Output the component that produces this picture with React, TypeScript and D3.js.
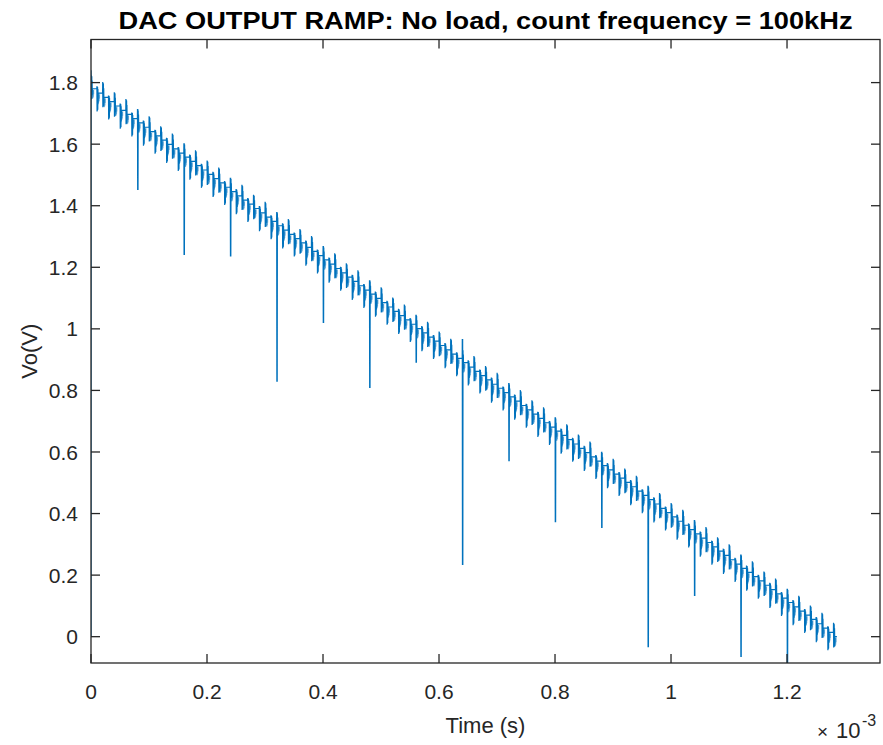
import React from 'react';
import * as d3 from 'd3';

const W = 883;
const H = 745;

// Axis ticks (time in ms, displayed with ×10^-3 multiplier)
const xTicks = [0, 0.2, 0.4, 0.6, 0.8, 1.0, 1.2];
const xTickLabels = ['0', '0.2', '0.4', '0.6', '0.8', '1', '1.2'];
const yTicks = [0, 0.2, 0.4, 0.6, 0.8, 1.0, 1.2, 1.4, 1.6, 1.8];
const yTickLabels = ['0', '0.2', '0.4', '0.6', '0.8', '1', '1.2', '1.4', '1.6', '1.8'];

// count frequency 100 kHz -> one DAC step every 10 µs (value in ms)
const stepPeriodMs = 0.01;

// staircase levels (V), one per count
const stepLevels = [
  1.780, 1.766, 1.752, 1.738, 1.724, 1.710, 1.697, 1.683, 1.669, 1.655,
  1.641, 1.627, 1.613, 1.599, 1.585, 1.571, 1.558, 1.544, 1.530, 1.516,
  1.502, 1.488, 1.474, 1.460, 1.446, 1.432, 1.418, 1.405, 1.391, 1.377,
  1.363, 1.349, 1.335, 1.321, 1.307, 1.293, 1.279, 1.265, 1.252, 1.238,
  1.224, 1.210, 1.196, 1.182, 1.168, 1.154, 1.140, 1.126, 1.113, 1.099,
  1.085, 1.071, 1.057, 1.043, 1.029, 1.015, 1.001, 0.987, 0.973, 0.960,
  0.946, 0.932, 0.918, 0.904, 0.890, 0.876, 0.862, 0.848, 0.834, 0.820,
  0.807, 0.793, 0.779, 0.765, 0.751, 0.737, 0.723, 0.709, 0.695, 0.681,
  0.668, 0.654, 0.640, 0.626, 0.612, 0.598, 0.584, 0.570, 0.556, 0.542,
  0.528, 0.515, 0.501, 0.487, 0.473, 0.459, 0.445, 0.431, 0.417, 0.403,
  0.389, 0.375, 0.362, 0.348, 0.334, 0.320, 0.306, 0.292, 0.278, 0.264,
  0.250, 0.236, 0.222, 0.209, 0.195, 0.181, 0.167, 0.153, 0.139, 0.125,
  0.111, 0.097, 0.083, 0.070, 0.056, 0.042, 0.028, 0.014, 0.000,
];

// glitch overshoot/undershoot (V) at each transition, repeating every 8 counts
const glitchHigh = [0.045, 0.022, 0.050, 0.020, 0.045, 0.022, 0.050, 0.020];
const glitchLow = [0.035, 0.060, 0.032, 0.058, 0.035, 0.060, 0.032, 0.058];

// fast glitch burst: time after transition (µs) and fraction of the glitch (+high / -low)
const burstTimesUs = [0.15, 0.45, 0.75, 1.05, 1.35, 1.65, 1.95, 2.25, 2.5];
const burstFractions = [1.0, -1.0, 0.95, -0.95, 0.9, -0.9, 0.6, -0.6, 0.0];

// slower ringing after the burst (lighter trace): time (µs) and depth below level (V)
const ringTimesUs = [2.6, 2.9, 3.2, 3.5, 3.8, 4.1, 4.4, 4.7, 5.0];
const ringDepth = [0.000, 0.032, 0.004, 0.030, 0.005, 0.026, 0.004, 0.018, 0.0];

// big glitches every 8 counts (at 0.08, 0.16, ... 1.2 ms)
const bigSpikeTimesMs = [0.08, 0.16, 0.24, 0.32, 0.40, 0.48, 0.56, 0.64, 0.72, 0.80, 0.88, 0.96, 1.04, 1.12, 1.20];
const bigSpikeLow = [1.451, 1.240, 1.235, 0.828, 1.019, 0.808, 0.890, 0.233, 0.570, 0.372, 0.353, -0.034, 0.132, -0.066, -0.110];
const bigSpikeHigh = [0.045, 0.045, 0.045, 0.045, 0.045, 0.045, 0.045, 0.077, 0.045, 0.045, 0.045, 0.045, 0.045, 0.045, 0.045];

// initial edge at t = 0
const startLevel = 0.0;
const startPeak = 1.84;

const FONT = '"Liberation Sans", Arial, Helvetica, sans-serif';
const AX = '#262626';
const LINE = '#0072BD';

type P = [number, number];

function buildMain(): P[] {
  const us = 0.001; // 1 µs in ms
  const pts: P[] = [];
  pts.push([0, startLevel]);
  pts.push([0, startPeak]);
  for (let i = 0; i < stepLevels.length; i++) {
    const t = i * stepPeriodMs;
    const L = stepLevels[i];
    const k = i % 8;
    if (i > 0) pts.push([t, stepLevels[i - 1]]);
    const bi = bigSpikeTimesMs.findIndex((bt) => Math.abs(bt - t) < 1e-9);
    burstTimesUs.forEach((bt, j) => {
      const f = burstFractions[j];
      let v = f >= 0 ? L + f * glitchHigh[k] : L + f * glitchLow[k];
      if (bi >= 0) {
        if (j === 0 || j === 2) v = L + bigSpikeHigh[bi];
        if (j === 1 || j === 3) v = bigSpikeLow[bi];
      }
      pts.push([t + bt * us, v]);
    });
  }
  const last = stepLevels.length - 1;
  pts.push([last * stepPeriodMs + 6 * us, stepLevels[last]]);
  return pts;
}

function buildRing(): P[][] {
  const us = 0.001;
  const segs: P[][] = [];
  for (let i = 0; i < stepLevels.length; i++) {
    const t = i * stepPeriodMs;
    const L = stepLevels[i];
    segs.push(ringTimesUs.map((rt, j) => [t + rt * us, L - ringDepth[j]] as P));
  }
  return segs;
}

export default function App() {
  const left = 91;
  const right = 880;
  const top = 39.5;
  const bottom = 663;
  const x = d3.scaleLinear().domain([0, 1.3603]).range([left, right]);
  const y = d3.scaleLinear().domain([-0.0855, 1.94]).range([bottom, top]);
  const main = buildMain();
  const ring = buildRing();
  const line = d3.line<P>().x((d) => x(d[0])).y((d) => y(d[1]));
  const tickLen = 9;

  return (
    <svg
      width={W}
      height={H}
      viewBox={`0 0 ${W} ${H}`}
      style={{ position: 'absolute', left: 0, top: 0, display: 'block', background: '#fff' }}
    >
      <rect x={0} y={0} width={W} height={H} fill="#fff" />
      <defs>
        <clipPath id="plotClip">
          <rect x={left} y={top} width={right - left} height={bottom - top} />
        </clipPath>
      </defs>
      <g clipPath="url(#plotClip)">
        {ring.map((seg, i) => (
          <path key={'r' + i} d={line(seg) || ''} fill="none" stroke={LINE} strokeOpacity={0.3} strokeWidth={0.8} />
        ))}
        <path d={line(main) || ''} fill="none" stroke={LINE} strokeWidth={1.2} strokeLinejoin="miter" />
      </g>
      {/* axes box */}
      <rect x={left} y={top} width={right - left} height={bottom - top} fill="none" stroke={AX} strokeWidth={1.3} />
      {/* x ticks */}
      {xTicks.map((t, i) => (
        <g key={'xt' + i}>
          <line x1={x(t)} x2={x(t)} y1={bottom} y2={bottom - tickLen} stroke={AX} strokeWidth={1.3} />
          <line x1={x(t)} x2={x(t)} y1={top} y2={top + tickLen} stroke={AX} strokeWidth={1.3} />
          <text x={x(t)} y={699} textAnchor="middle" fontFamily={FONT} fontSize={21} fill={AX}>
            {xTickLabels[i]}
          </text>
        </g>
      ))}
      {/* y ticks */}
      {yTicks.map((t, i) => (
        <g key={'yt' + i}>
          <line x1={left} x2={left + tickLen} y1={y(t)} y2={y(t)} stroke={AX} strokeWidth={1.3} />
          <line x1={right} x2={right - tickLen} y1={y(t)} y2={y(t)} stroke={AX} strokeWidth={1.3} />
          <text x={78} y={y(t)} dy="0.36em" textAnchor="end" fontFamily={FONT} fontSize={21} fill={AX}>
            {yTickLabels[i]}
          </text>
        </g>
      ))}
      {/* title */}
      <text
        x={(left + right) / 2}
        y={29}
        textAnchor="middle"
        fontFamily={FONT}
        fontWeight="bold"
        fontSize={24}
        fill="#000"
        textLength={734}
        lengthAdjust="spacingAndGlyphs"
      >
        DAC OUTPUT RAMP: No load, count frequency = 100kHz
      </text>
      {/* axis labels */}
      <text x={(left + right) / 2} y={733} textAnchor="middle" fontFamily={FONT} fontSize={22} fill={AX}>
        Time (s)
      </text>
      <text
        transform={`translate(37, ${(top + bottom) / 2}) rotate(-90)`}
        textAnchor="middle"
        fontFamily={FONT}
        fontSize={22}
        fill={AX}
      >
        Vo(V)
      </text>
      {/* exponent */}
      <text x={817} y={738} fontFamily={FONT} fontSize={19} fill={AX}>×</text>
      <text x={836} y={738} fontFamily={FONT} fontSize={22} fill={AX}>10</text>
      <text x={862} y={726} fontFamily={FONT} fontSize={16} fill={AX}>-3</text>
    </svg>
  );
}
